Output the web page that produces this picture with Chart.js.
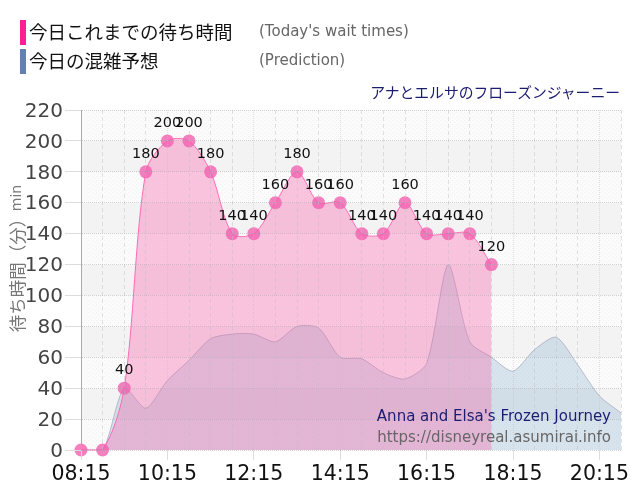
<!DOCTYPE html>
<html>
<head>
<meta charset="utf-8">
<style>
body { margin:0; background:#fff; }
#wrap { position:relative; width:640px; height:500px; overflow:hidden; }
#wrap div { position:absolute; white-space:nowrap; }
canvas { position:absolute; left:0; top:0; }
.jp { font-family:"Noto Sans CJK JP"; font-size:18.5px; color:#111; left:29px; line-height:24px; }
.en { font-family:"DejaVu Sans"; font-size:15px; color:#666; left:259px; line-height:20px; }
</style>
</head>
<body>
<div id="wrap">
  <canvas id="chart" width="640" height="500"></canvas>
  <div style="left:20px;top:20px;width:6px;height:25px;background:#ff1e96"></div>
  <div style="left:20px;top:49px;width:6px;height:25px;background:#6480b0"></div>
  <div class="jp" style="top:19px">今日これまでの待ち時間</div>
  <div class="jp" style="top:48px">今日の混雑予想</div>
  <div class="en" style="top:21px">(Today's wait times)</div>
  <div class="en" style="top:50px">(Prediction)</div>
  <div style="right:20px;top:83px;font:14.8px 'Noto Sans CJK JP';line-height:18px;color:#1c1c70">アナとエルサのフローズンジャーニー</div>
  <div style="right:29px;top:407px;font:15px 'DejaVu Sans';color:#1c1c70">Anna and Elsa's Frozen Journey</div>
  <div style="right:29px;top:428px;font:15px 'DejaVu Sans';color:#666">https://disneyreal.asumirai.info</div>
</div>
<script src="https://cdn.jsdelivr.net/npm/chart.js@4"></script>
<script>
// 30 minute slots, 08:15 - 20:45
const horas = ["08:15","08:45","09:15","09:45","10:15","10:45","11:15","11:45","12:15","12:45","13:15","13:45","14:15","14:45","15:15","15:45","16:15","16:45","17:15","17:45","18:15","18:45","19:15","19:45","20:15","20:45"];
const espera = [0,0,40,180,200,200,180,140,140,160,180,160,160,140,140,160,140,140,140,120];
const prediccion = [0,0,40,27,45,58,72,75,75,70,80,79,60,59,50,46,56,120,70,60,51,65,73,55,35,24];
const yTicks = [0,20,40,60,80,100,120,140,160,180,200,220];

// bandas alternas del fondo
const bandas = {
  id: 'bandas',
  beforeDatasetsDraw(chart) {
    const { ctx, chartArea: a, scales: { y } } = chart;
    const p = document.createElement('canvas');
    p.width = p.height = 4;
    const pc = p.getContext('2d');
    pc.fillStyle = '#fbfbfb';
    pc.fillRect(0, 0, 4, 4);
    pc.fillStyle = '#f1f1f1';
    pc.fillRect(0, 0, 1, 1);
    pc.fillRect(2, 2, 1, 1);
    const dots = ctx.createPattern(p, 'repeat');
    ctx.save();
    yTicks.slice(0, -1).forEach((v, i) => {
      ctx.fillStyle = i % 2 === 0 ? dots : '#f3f3f3';
      const top = y.getPixelForValue(v + 20);
      ctx.fillRect(a.left, top, a.right - a.left, y.getPixelForValue(v) - top);
    });
    ctx.restore();
  }
};

new Chart(document.getElementById('chart'), {
  type: 'line',
  data: {
    labels: horas,
    datasets: [
      {
        data: espera,
        borderColor: 'rgba(255,80,170,0.8)',
        borderWidth: 1,
        backgroundColor: 'rgba(250,100,175,0.36)',
        fill: 'origin',
        tension: 0.3,
        clip: false,
        pointRadius: 6.5,
        pointHoverRadius: 6.5,
        pointBorderWidth: 0,
        pointBackgroundColor: 'rgba(243,95,175,0.8)',
        order: 1
      },
      {
        data: prediccion,
        borderColor: 'rgba(120,130,160,0.45)',
        borderWidth: 1,
        backgroundColor: 'rgba(110,160,195,0.25)',
        fill: 'origin',
        tension: 0.25,
        pointRadius: 0,
        order: 2
      }
    ]
  },
  options: {
    responsive: false,
    animation: false,
    layout: { padding: { right: 19, top: 110 } },
    plugins: {
      legend: { display: false },
      tooltip: { enabled: false }
    },
    scales: {
      x: {
        offset: false,
        afterFit(s) { s.height = 50; },
        grid: {
          z: 1,
          tickLength: 10,
          color: 'rgba(190,190,190,0.45)',
          tickColor: c => c.index % 4 === 0 ? '#ddd' : 'transparent'
        },
        border: {
          display: false,
          dash: c => c.index % 4 === 0 ? [1, 1] : [4, 3]
        },
        ticks: {
          autoSkip: false,
          maxRotation: 0,
          color: '#111',
          font: { family: 'DejaVu Sans', size: 20.5 },
          padding: 2,
          callback(v, i) { return i % 4 === 0 ? horas[i] : ''; }
        }
      },
      y: {
        min: 0,
        max: 220,
        afterFit(s) { s.width = 81; },
        afterBuildTicks(s) { s.ticks = yTicks.map(v => ({ value: v })); },
        grid: {
          z: 1,
          color: 'rgba(170,170,170,0.5)',
          tickLength: 16,
          tickColor: '#ddd'
        },
        // z igual al grid: si no el borde se pinta antes de calcular su posicion
        border: { display: true, z: 1, color: '#aaa', dash: [1, 1] },
        ticks: {
          color: '#444',
          font: { family: 'DejaVu Sans', size: 20 },
          padding: 2,
          labelOffset: 1.5,
          callback: v => String(v)
        }
      }
    }
  },
  plugins: [bandas, {
    id: 'textos',
    afterDraw(chart) {
      const { ctx, scales: { x, y } } = chart;
      ctx.save();
      // valores sobre los puntos
      ctx.font = '14.5px "DejaVu Sans"';
      ctx.fillStyle = '#111';
      ctx.textAlign = 'center';
      ctx.textBaseline = 'alphabetic';
      espera.forEach((v, i) => {
        if (v > 0) ctx.fillText(String(v), x.getPixelForValue(i), y.getPixelForValue(v) - 14);
      });
      // titulo del eje y
      ctx.translate(17, 271);
      ctx.rotate(-Math.PI / 2);
      ctx.fillStyle = '#777';
      ctx.textAlign = 'center';
      ctx.textBaseline = 'middle';
      ctx.font = '17.5px "Noto Sans CJK JP"';
      ctx.fillText('待ち時間（分）', 0, 0);
      ctx.font = '14px "DejaVu Sans"';
      ctx.fillText('min', 73, 0);
      ctx.restore();
    }
  }]
});
</script>
</body>
</html>
